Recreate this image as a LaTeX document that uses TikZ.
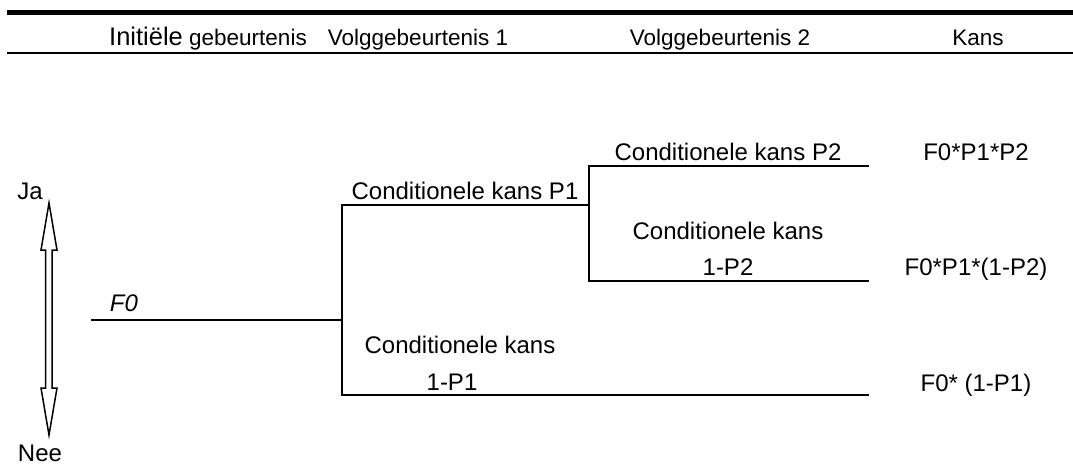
\documentclass[tikz,border=0pt]{standalone}
\usepackage{fontspec}
\setmainfont{Liberation Sans}
\tikzset{
  lbl/.style={font=\fontsize{24}{28}\selectfont, inner sep=0pt, anchor=base},
  hdr/.style={font=\fontsize{22.5}{27}\selectfont, inner sep=0pt, anchor=base},
  tak/.style={line width=2pt, line cap=rect}
}
\begin{document}
\begin{tikzpicture}[x=1pt,y=-1pt]
\useasboundingbox (0,0) rectangle (1073,466);
\draw [line width=5pt] (7,12.5)--(1073,12.5);
\draw [line width=2pt] (7,53)--(1073,53);
\node [hdr] (hinit) at (208,45) {{\fontsize{25.5}{28}\selectfont Initiële} gebeurtenis};
\node [hdr] (hvolg1) at (418,45) {Volggebeurtenis 1};
\node [hdr] (hvolg2) at (720,45) {Volggebeurtenis 2};
\node [hdr] (hkans) at (978,45) {Kans};
\pgfmathsetmacro{\a}{342}
\pgfmathsetmacro{\b}{589}
\pgfmathsetmacro{\c}{868}
\coordinate (f0) at (92,320);
\coordinate (s1) at (\a,320);
\coordinate (s1up) at (\a,205);
\coordinate (s1dn) at (\a,395);
\coordinate (s2) at (\b,205);
\coordinate (s2up) at (\b,166);
\coordinate (s2dn) at (\b,281);
\coordinate (e1) at (\c,166);
\coordinate (e2) at (\c,281);
\coordinate (e3) at (\c,395);
\draw [tak] (f0)--(s1);
\draw [tak] (s1up)--(s1dn);
\draw [tak] (s1up)--(s2);
\draw [tak] (s2up)--(s2dn);
\draw [tak] (s2up)--(e1);
\draw [tak] (s2dn)--(e2);
\draw [tak] (s1dn)--(e3);
\node [lbl, font=\fontsize{24}{28}\selectfont\itshape] (lf0) at (124,311) {F0};
\node [lbl] (lp1) at (465,199) {Conditionele kans P1};
\node [lbl] (lp2) at (728,160) {Conditionele kans P2};
\node [lbl] (lq2a) at (728,239) {Conditionele kans};
\node [lbl] (lq2b) at (728,275) {1-P2};
\node [lbl] (lq1a) at (460,353) {Conditionele kans};
\node [lbl] (lq1b) at (452,390) {1-P1};
\pgfmathsetmacro{\a}{976}
\node [lbl] (r1) at (\a,160) {F0*P1*P2};
\node [lbl] (r2) at (\a,275) {F0*P1*(1-P2)};
\node [lbl] (r3) at (\a,391) {F0* (1-P1)};
% ja / nee pijl
\draw [line width=1.5pt, line join=miter]
  (49,203)--(57,250)--(52,250)--(52,388)--(57,388)--(49,435)
  --(41,388)--(45.5,388)--(45.5,250)--(41,250)--cycle;
\node [lbl] (lja) at (30,199) {Ja};
\node [lbl] (lnee) at (40,461) {Nee};
\end{tikzpicture}
\end{document}
